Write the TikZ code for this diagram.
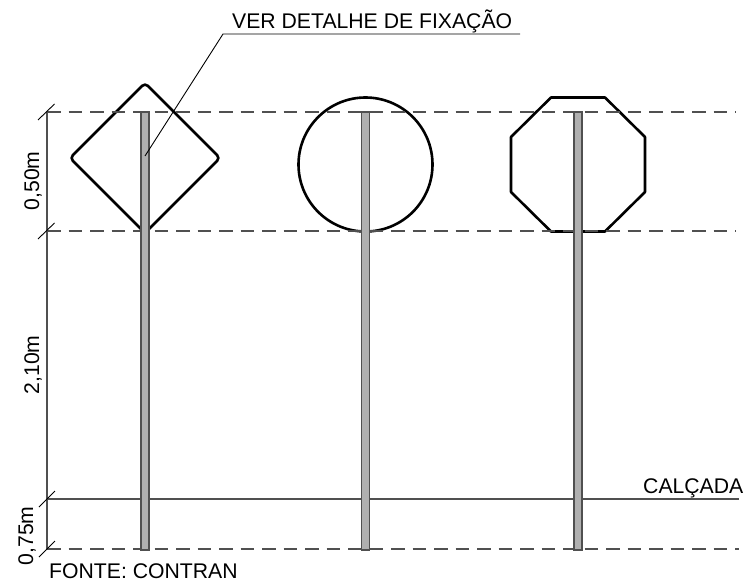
\documentclass[tikz,border=0pt]{standalone}
\usepackage{fontspec}
\setmainfont{Liberation Sans}
\usepackage{tikz}
\definecolor{dimgray}{HTML}{505050}
\definecolor{polegray}{HTML}{B0B0B0}
\tikzstyle{sign} = [black, line width=2.6pt, line join=round]
\tikzstyle{pole} = [draw=dimgray, line width=1.2pt, fill=polegray]
\tikzstyle{level} = [dimgray, line width=1.3pt, dash pattern=on 13.5pt off 8pt]
\tikzstyle{dimline} = [dimgray, line width=1.3pt]
\tikzstyle{tick} = [black, line width=0.9pt]
\tikzstyle{label} = [inner sep=0pt, font=\fontsize{21.2}{24}\selectfont, text=black]

\begin{document}
\begin{tikzpicture}[x=1pt,y=-1pt]
\useasboundingbox (0,0) rectangle (747,583);
% signs
\draw [sign, rounded corners=4pt] (145,83) -- (220,158) -- (145,233) -- (70,158) -- cycle;
\node (round) [sign, circle, draw, inner sep=0pt, minimum size=134pt] at (365.5,164.5) {};
\draw [sign] (551,97.5) -- (605,97.5) -- (645,137) -- (645,192) -- (605,231.5) -- (551,231.5) -- (511,192) -- (511,137) -- cycle;
% levels
\coordinate (top) at (47,112);
\coordinate (mid) at (47,231);
\coordinate (walk) at (47,499);
\coordinate (base) at (47,549);
\draw [level] (top) -- (736,112);
\draw [level] (mid) -- (736,231);
\draw [level] (base) -- (739,549);
\draw [dimline] (walk) -- (739,499);
\draw [dimline] (top) -- (base);
\draw [tick] (38,120) -- (54.5,104);
\draw [tick] (38,239) -- (54.5,223);
\draw [tick] (39,507) -- (55,491);
\draw [tick] (39,557) -- (55,541);
% poles
\draw [pole] (141,112) rectangle (149,550);
\draw [pole] (361.5,112) rectangle (369.5,550);
\draw [pole] (574,112) rectangle (582,550);
% leader
\coordinate (hook) at (223,34);
\coordinate (tip) at (145,156);
\draw [tick] (tip) -- (hook) -- (520,34);
% texts
\node (detail) [label, anchor=base west] at (232,29) {VER DETALHE DE FIXAÇÃO};
\node (walkway) [label, anchor=base west] at (643,493) {CALÇADA};
\node (source) [label, anchor=base west] at (49,578) {FONTE: CONTRAN};
\node (h1) [label, rotate=90, anchor=base] at (39,181) {0,50m};
\node (h2) [label, rotate=90, anchor=base] at (39,365) {2,10m};
\node (h3) [label, rotate=90, anchor=base] at (33,536) {0,75m};
\end{tikzpicture}
\end{document}
